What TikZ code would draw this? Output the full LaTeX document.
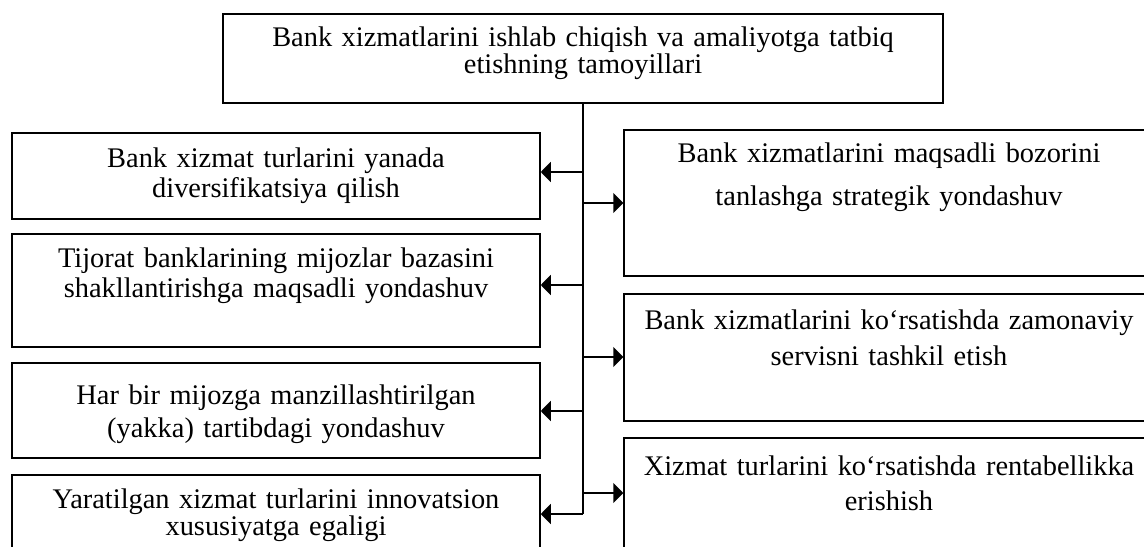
\documentclass[tikz,border=0pt]{standalone}
\usepackage{fontspec}
\setmainfont{Liberation Serif}
\usetikzlibrary{arrows.meta, positioning}

\begin{document}
\begin{tikzpicture}[x=0.5pt, y=-0.5pt,
  arrow/.style={-{Triangle[length=5pt, width=10pt]}, line width=0.9pt},
  spine/.style={line width=0.75pt},
  box/.style={draw, line width=0.75pt, inner sep=0pt, anchor=north, align=center, text width=#1},
  lbox/.style={box=264pt},
  rbox/.style={box=265pt},
  txt/.style={font=\fontsize{14.2pt}{#1}\selectfont}
]
\useasboundingbox (0,0) rectangle (1144,546);
\clip (0,0) rectangle (1144,546);
% head box
\node[box=360pt, txt=13.5pt, text height=16.5pt, text depth=28pt] (top) at (583,13) {Bank xizmatlarini ishlab chiqish va amaliyotga tatbiq\\etishning tamoyillari};
% left column
\node[lbox, txt=15pt, text height=17.5pt, text depth=25.5pt] (l1) at (276,132) {Bank xizmat turlarini yanada\\diversifikatsiya qilish};
\node[lbox, txt=15pt, text height=17pt, text depth=39.5pt] (l2) at (276,233) {Tijorat banklarining mijozlar bazasini\\shakllantirishga maqsadli yondashuv};
\node[lbox, txt=16.5pt, text height=21pt, text depth=26.5pt] (l3) at (276,362) {Har bir mijozga manzillashtirilgan\\(yakka) tartibdagi yondashuv};
\node[lbox, txt=13.5pt, text height=17pt, text depth=43pt] (l4) at (276,474) {Yaratilgan xizmat turlarini innovatsion\\xususiyatga egaligi};
% right column
\node[rbox, txt=21.5pt, text height=16.5pt, text depth=56.5pt] (r1) at (889,129) {Bank xizmatlarini maqsadli bozorini\\tanlashga strategik yondashuv};
\node[rbox, txt=18pt, text height=18pt, text depth=45.5pt] (r2) at (889,293) {Bank xizmatlarini ko‘rsatishda zamonaviy\\servisni tashkil etish};
\node[rbox, txt=17.5pt, text height=19pt, text depth=41pt] (r3) at (889,437) {Xizmat turlarini ko‘rsatishda rentabellikka\\erishish};
% connectors
\coordinate (spine) at (583,514);
\draw[spine] (spine |- top.south) -- (spine);
\foreach \b/\y in {l1/172, l2/285, l3/411, l4/514}
  \draw[arrow] (spine |- 0,\y) -- (\b.east |- 0,\y);
\foreach \b/\y in {r1/203, r2/357, r3/493}
  \draw[arrow] (spine |- 0,\y) -- (\b.west |- 0,\y);
\end{tikzpicture}
\end{document}
